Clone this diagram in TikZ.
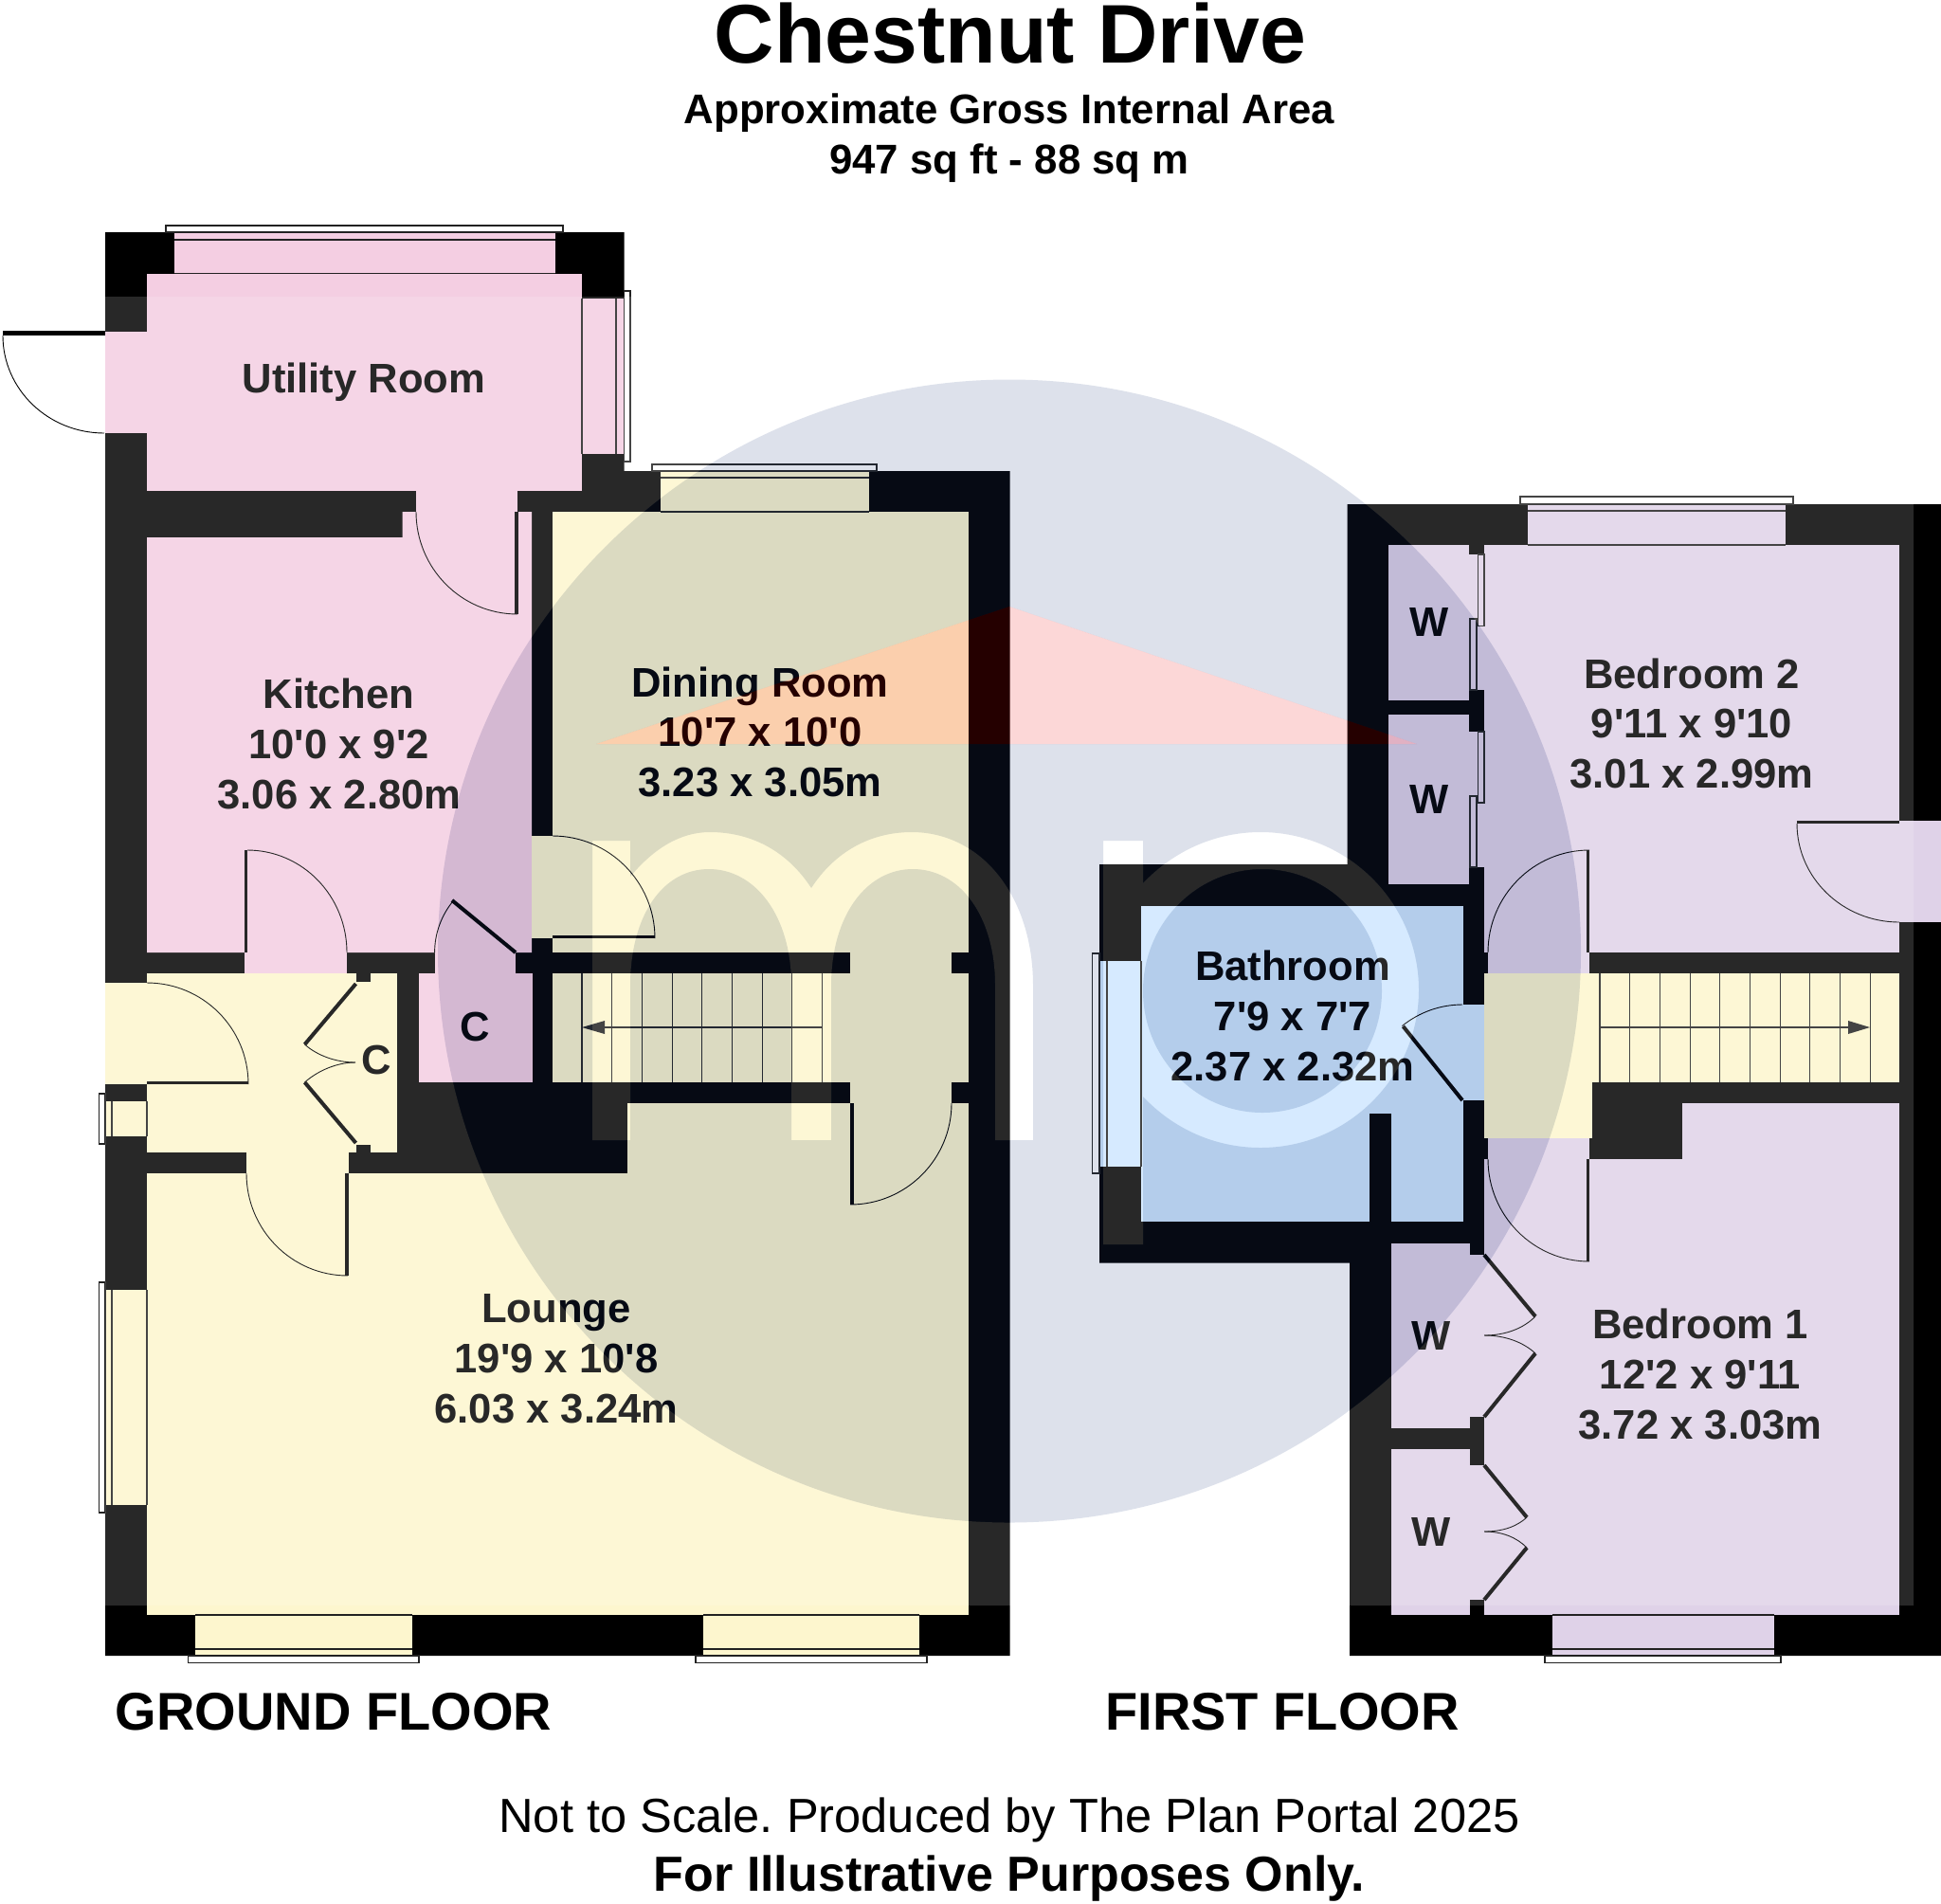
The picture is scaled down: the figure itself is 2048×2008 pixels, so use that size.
\documentclass[tikz,border=0pt]{standalone}
\usepackage{fontspec}
\setmainfont{Liberation Sans}
\definecolor{pinkroom}{HTML}{F4CEE2}
\definecolor{yellowroom}{HTML}{FDF6CE}
\definecolor{lavroom}{HTML}{DFD2E8}
\definecolor{blueroom}{HTML}{CFE7FF}
\definecolor{markblue}{HTML}{284581}
\definecolor{markred}{HTML}{F20000}
\definecolor{lineink}{HTML}{222222}
\newcommand{\ap}{\textquotesingle}
\frenchspacing
\tikzset{
  wall/.style={fill=black,draw=none},
  pinkfill/.style={fill=pinkroom,draw=none},
  yellowfill/.style={fill=yellowroom,draw=none},
  lavfill/.style={fill=lavroom,draw=none},
  bluefill/.style={fill=blueroom,draw=none},
  thinline/.style={draw=lineink,line width=0.55pt},
  framebox/.style={draw=lineink,line width=0.55pt,fill=white},
  leaf/.style={draw=black,line width=2pt},
  swing/.style={draw=black,line width=0.45pt},
  roomlabel/.style={anchor=base,inner sep=0pt,font=\fontsize{21.8}{26}\selectfont\bfseries,text=black},
  floorlabel/.style={anchor=base,inner sep=0pt,font=\fontsize{28}{32}\selectfont\bfseries,text=black},
}
\newcommand{\logopaths}{
  (625,887) -- (665,887) -- (665,925)
  .. controls (690,895) and (718,878) .. (749,878)
  .. controls (795,878) and (832,900) .. (856,937)
  .. controls (880,900) and (917,878) .. (962,878)
  .. controls (1035,878) and (1090,945) .. (1090,1040)
  -- (1090,1203) -- (1050,1203) -- (1050,1040)
  .. controls (1050,965) and (1012,917) .. (963,917)
  .. controls (915,917) and (877,965) .. (877,1040)
  -- (877,1203) -- (835,1203) -- (835,1040)
  .. controls (835,965) and (796,917) .. (748,917)
  .. controls (700,917) and (665,965) .. (665,1040)
  -- (665,1203) -- (625,1203) -- cycle
  (1164,887) -- (1206,887) -- (1206,932)
  .. controls (1238,898) and (1282,878) .. (1330,878)
  .. controls (1422,878) and (1497,953) .. (1497,1044.5)
  .. controls (1497,1136) and (1422,1211) .. (1330,1211)
  .. controls (1282,1211) and (1238,1191) .. (1206,1157)
  -- (1206,1313) -- (1164,1313) -- cycle
  (1206,1045.5) .. controls (1206,975) and (1262,917) .. (1332,917)
  .. controls (1402,917) and (1458,975) .. (1458,1045.5)
  .. controls (1458,1116) and (1402,1174) .. (1332,1174)
  .. controls (1262,1174) and (1206,1116) .. (1206,1045.5) -- cycle
}
\newcommand{\markdisc}{(1065,1003.5) circle[radius=603]}
\newcommand{\markroof}{(629,785) -- (1065,640) -- (1495,785) -- cycle}
\begin{document}
\begin{tikzpicture}[x=0.5pt,y=-0.5pt]
\useasboundingbox (0,0) rectangle (2048,2008);
\fill[white] (0,0) rectangle (2048,2008);

% ---- outer wall masses
\fill[wall] (111,245) -- (658.5,245) -- (658.5,497) -- (1065.7,497) -- (1065.7,1747) -- (111,1747) -- cycle;
\fill[wall] (1421.5,532) -- (2048,532) -- (2048,1747) -- (1424,1747) -- (1424,1332.6) -- (1160,1332.6) -- (1160,912) -- (1421.5,912) -- cycle;

% ---- ground floor: pink rooms
\fill[pinkfill] (155,289) rectangle (614,518);
\fill[pinkfill] (183.5,245) rectangle (586,288);
\fill[pinkfill] (614,315) rectangle (658.5,479);
\fill[pinkfill] (111,350) rectangle (155,457);
\fill[pinkfill] (439,518) rectangle (546,567);
\fill[pinkfill] (155,567) -- (424.5,567) -- (424.5,540) -- (561,540) -- (561,1005) -- (155,1005) -- cycle;
\fill[pinkfill] (258,1005) rectangle (366,1027);
\fill[pinkfill] (458.6,1005) rectangle (544,1027);
\fill[pinkfill] (441.6,1027) rectangle (561.7,1142);

% ---- ground floor: yellow rooms
\fill[yellowfill] (583,540) rectangle (1022,1005);
\fill[yellowfill] (697,497) rectangle (917,540);
\fill[yellowfill] (561,882) rectangle (583,990);
\fill[yellowfill] (583,990) rectangle (691,1005);
\fill[yellowfill] (897,1005) rectangle (1004,1164);
\fill[yellowfill] (583,1027) rectangle (1022,1142);
\fill[yellowfill] (155,1027) rectangle (419,1216);
\fill[yellowfill] (111,1037) rectangle (155,1144);
\fill[yellowfill] (111,1162) rectangle (155,1199);
\fill[yellowfill] (260,1216) rectangle (367.5,1238);
\fill[yellowfill] (155,1238) rectangle (1022,1704);
\fill[yellowfill] (662,1164) rectangle (1022,1238);
\fill[yellowfill] (111,1361) rectangle (155,1588);
\fill[yellowfill] (206,1704) rectangle (435,1747);
\fill[yellowfill] (742,1704) rectangle (970,1747);
\fill[wall] (375.5,1027) rectangle (391,1036);
\fill[wall] (375.5,1208) rectangle (391,1216);

% ---- first floor rooms
\fill[lavfill] (1566,575) rectangle (2004,1005);
\fill[lavfill] (1611.6,532) rectangle (1883.5,575);
\fill[lavfill] (1465,575) rectangle (1550,739);
\fill[lavfill] (1465,754) rectangle (1550,933);
\fill[lavfill] (1550,585) rectangle (1566,728);
\fill[lavfill] (1550,772) rectangle (1566,915);
\fill[lavfill] (2004,866) rectangle (2048,973);
\fill[lavfill] (1570,1005) rectangle (1677,1027);
\fill[lavfill] (1566,1223) rectangle (2004,1704);
\fill[lavfill] (1775,1164) rectangle (2004,1223);
\fill[lavfill] (1570,1201) rectangle (1677,1223);
\fill[lavfill] (1468,1312) rectangle (1551,1507);
\fill[lavfill] (1468,1529) rectangle (1551,1704);
\fill[lavfill] (1551,1324) rectangle (1566,1495);
\fill[lavfill] (1551,1546) rectangle (1566,1688);
\fill[lavfill] (1637.6,1704) rectangle (1872,1747);
\fill[yellowfill] (1566,1027) rectangle (2004,1142);
\fill[yellowfill] (1566,1142) rectangle (1680,1201);
\fill[bluefill] (1204,956) rectangle (1543.6,1289);
\fill[bluefill] (1160,1014) rectangle (1204,1231);
\fill[bluefill] (1543.6,1060) rectangle (1566,1161);
\fill[wall] (1445,1175) rectangle (1468,1289);

% ---- windows
\path[framebox] (175,238) rectangle (594,245);
\draw[thinline] (183.5,253) -- (586,253) (183.5,288.5) -- (586,288.5);
\path[framebox] (658.5,307) rectangle (665,487);
\draw[thinline] (650,315) -- (650,479) (614,315) -- (614,479);
\path[framebox] (688,490) rectangle (925,497);
\draw[thinline] (697,504) -- (917,504) (697,540) -- (917,540);
\path[framebox] (104.5,1154) rectangle (111,1207);
\draw[thinline] (118,1162) -- (118,1199) (155,1162) -- (155,1199);
\path[framebox] (104.5,1353) rectangle (111,1596);
\draw[thinline] (118,1361) -- (118,1588) (155,1361) -- (155,1588);
\path[framebox] (198.5,1747) rectangle (442,1754.5);
\draw[thinline] (206,1740) -- (435,1740) (206,1704) -- (435,1704);
\path[framebox] (734,1747) rectangle (978,1754.5);
\draw[thinline] (742,1740) -- (970,1740) (742,1704) -- (970,1704);
\path[framebox] (1604,524) rectangle (1892,532);
\draw[thinline] (1611.6,539) -- (1883.5,539) (1611.6,575) -- (1883.5,575);
\path[framebox] (1152.5,1006) rectangle (1160,1238);
\draw[thinline] (1168,1014) -- (1168,1231) (1204,1014) -- (1204,1231);
\path[framebox] (1630,1747) rectangle (1879,1754.5);
\draw[thinline] (1637.6,1740) -- (1872,1740) (1637.6,1704) -- (1872,1704);

% ---- sliding wardrobe doors
\draw[thinline] (1559.5,585) rectangle (1566,660.7);
\draw[thinline] (1551,653) rectangle (1558,728);
\draw[thinline] (1559.5,772) rectangle (1566,847);
\draw[thinline] (1551,840) rectangle (1558,915);

% ---- stairs
\foreach \k in {0,...,8} {\draw[thinline] ({614+31.7*\k},1027) -- ({614+31.7*\k},1142);}
\draw[thinline] (868,1084) -- (625,1084);
\fill[lineink] (614,1084) -- (638,1077) -- (638,1091) -- cycle;
\foreach \k in {0,...,9} {\draw[thinline] ({1688+31.7*\k},1027) -- ({1688+31.7*\k},1142);}
\draw[thinline] (1688,1084) -- (1960,1084);
\fill[lineink] (1973,1084) -- (1950,1077) -- (1950,1091) -- cycle;

% ---- door leaves
\fill[wall] (3,349) rectangle (111,354);
\fill[wall] (543,540) rectangle (547,648);
\fill[wall] (258,897) rectangle (261,1005);
\fill[wall] (583,987) rectangle (691,990);
\fill[wall] (155,1141) rectangle (262,1144);
\fill[wall] (364,1238) rectangle (367.5,1346);
\fill[wall] (897,1164) rectangle (901,1271);
\fill[wall] (1674,897) rectangle (1677,1005);
\fill[wall] (1674,1223) rectangle (1677,1331);
\fill[wall] (1896,866) rectangle (2004,869);
\draw[leaf] (477,950) -- (544,1005);
\draw[leaf] (1480.5,1083) -- (1543,1161);
\draw[leaf] (375.5,1038) -- (321.5,1102);
\draw[leaf] (375.5,1206) -- (321.5,1142);
\draw[leaf] (1566,1324) -- (1620,1389);
\draw[leaf] (1620,1428) -- (1566,1495);
\draw[leaf] (1566,1546) -- (1611,1601);
\draw[leaf] (1611,1633) -- (1566,1688);

% ---- door swings
\draw[swing] (3,354) arc[start angle=180,end angle=90,x radius=107,y radius=103];
\draw[swing] (439,540) arc[start angle=180,end angle=90,x radius=107,y radius=108];
\draw[swing] (261,897) arc[start angle=270,end angle=360,x radius=105,y radius=108];
\draw[swing] (583,882) arc[start angle=270,end angle=360,x radius=108,y radius=108];
\draw[swing] (458.6,1005) arc[start angle=180,end angle=219.6,radius=85.4];
\draw[swing] (155,1037) arc[start angle=270,end angle=360,x radius=107,y radius=107];
\draw[swing] (260,1238) arc[start angle=180,end angle=90,x radius=107,y radius=108];
\draw[swing] (1004,1164) arc[start angle=0,end angle=90,x radius=107,y radius=107];
\draw[swing] (1677,897) arc[start angle=270,end angle=180,x radius=107,y radius=108];
\draw[swing] (1570,1223) arc[start angle=180,end angle=90,x radius=107,y radius=108];
\draw[swing] (1543,1060) arc[start angle=270,end angle=231,radius=101];
\draw[swing] (1896,869) arc[start angle=180,end angle=90,x radius=108,y radius=104];
\draw[swing] (321.5,1102) .. controls (335,1114) and (355,1121) .. (375,1121);
\draw[swing] (321.5,1142) .. controls (335,1130) and (355,1121) .. (375,1121);
\draw[swing] (1620,1389) .. controls (1607,1402) and (1588,1409) .. (1566,1409);
\draw[swing] (1620,1428) .. controls (1607,1416) and (1588,1409) .. (1566,1409);
\draw[swing] (1611,1601) .. controls (1600,1611) and (1585,1616) .. (1566,1616);
\draw[swing] (1611,1633) .. controls (1600,1622) and (1585,1616) .. (1566,1616);

% ---- room labels
\node[roomlabel] (utilityname) at (384,414) {Utility Room};
\node[roomlabel] (kitchenname) at (357.5,747) {Kitchen};
\node[roomlabel] (kitchenft) at (357.5,800) {10\ap0 x 9\ap2};
\node[roomlabel] (kitchenm) at (358,853) {3.06 x 2.80m};
\node[roomlabel] (diningname) at (802,735) {Dining Room};
\node[roomlabel] (diningft) at (802,787) {10\ap7 x 10\ap0};
\node[roomlabel] (diningm) at (802,840) {3.23 x 3.05m};
\node[roomlabel] (loungename) at (587,1395) {Lounge};
\node[roomlabel] (loungeft) at (587,1448) {19\ap9 x 10\ap8};
\node[roomlabel] (loungem) at (587,1501) {6.03 x 3.24m};
\node[roomlabel] (bathname) at (1364,1034) {Bathroom};
\node[roomlabel] (bathft) at (1364,1087) {7\ap9 x 7\ap7};
\node[roomlabel] (bathm) at (1364,1140) {2.37 x 2.32m};
\node[roomlabel] (bedtwoname) at (1785,726) {Bedroom 2};
\node[roomlabel] (bedtwoft) at (1785,778) {9\ap11 x 9\ap10};
\node[roomlabel] (bedtwom) at (1785,831) {3.01 x 2.99m};
\node[roomlabel] (bedonename) at (1794,1412) {Bedroom 1};
\node[roomlabel] (bedoneft) at (1794,1465) {12\ap2 x 9\ap11};
\node[roomlabel] (bedonem) at (1794,1518) {3.72 x 3.03m};
\node[roomlabel] (hallc) at (397,1133) {C};
\node[roomlabel] (kitc) at (501,1098) {C};
\node[roomlabel] (wone) at (1508,671) {W};
\node[roomlabel] (wtwo) at (1508,858) {W};
\node[roomlabel] (wthree) at (1510,1424) {W};
\node[roomlabel] (wfour) at (1510,1631) {W};

% ---- watermark, composited over the plan
\fill[white,fill opacity=0.157,even odd rule] (111,313) rectangle (2019,1694) \markdisc \logopaths;
\fill[markblue,fill opacity=0.155,even odd rule] \markdisc \logopaths \markroof;
\fill[markred,fill opacity=0.157] \markroof;

% ---- titles
\node[anchor=base,inner sep=0pt,font=\fontsize{43.9}{50}\selectfont\bfseries] (title) at (1066,66) {Chestnut Drive};
\node[anchor=base,inner sep=0pt,font=\fontsize{21.9}{26}\selectfont\bfseries] (areaname) at (1065,130) {Approximate Gross Internal Area};
\node[anchor=base,inner sep=0pt,font=\fontsize{21.9}{26}\selectfont\bfseries] (areaval) at (1065,183) {947 sq ft - 88 sq m};
\node[floorlabel] (groundname) at (352,1825.5) {GROUND FLOOR};
\node[floorlabel] (firstname) at (1353,1825.5) {FIRST FLOOR};
\node[anchor=base,inner sep=0pt,font=\fontsize{25.3}{28}\selectfont] (scalenote) at (1065,1933) {Not to Scale. Produced by The Plan Portal 2025};
\node[anchor=base,inner sep=0pt,font=\fontsize{26}{28}\selectfont\bfseries] (purposenote) at (1065,1995) {For Illustrative Purposes Only.};
\end{tikzpicture}
\end{document}
